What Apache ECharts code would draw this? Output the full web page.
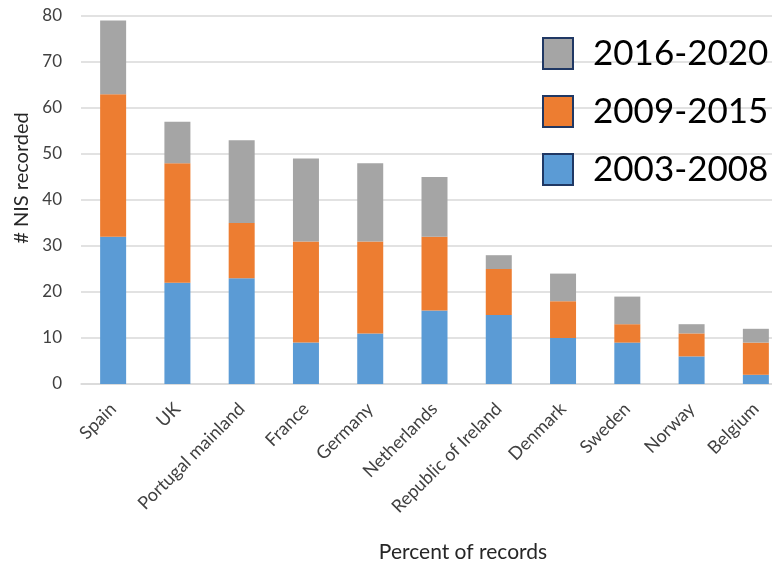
<!DOCTYPE html>
<html>
<head>
<meta charset="utf-8">
<script src="https://cdn.jsdelivr.net/npm/echarts@6/dist/echarts.min.js"></script>
<style>
  html, body { margin: 0; padding: 0; background: #fff; }
  #chart { width: 772px; height: 566px; }
</style>
</head>
<body>
<div id="chart"></div>
<script>
// Countries, ordered by total number of NIS recorded
const countries = ['Spain', 'UK', 'Portugal mainland', 'France', 'Germany', 'Netherlands',
  'Republic of Ireland', 'Denmark', 'Sweden', 'Norway', 'Belgium'];

// Records per period (stacked segments)
const period2003_2008 = [32, 22, 23, 9, 11, 16, 15, 10, 9, 6, 2];
const period2009_2015 = [31, 26, 12, 22, 20, 16, 10, 8, 4, 5, 7];
const period2016_2020 = [16, 9, 18, 18, 17, 13, 3, 6, 6, 2, 3];

const periodNames = ['2003-2008', '2009-2015', '2016-2020'];
const yTicks = { min: 0, max: 80, interval: 10 };

const colors = ['#5b9bd5', '#ed7d31', '#a5a5a5'];
const font = 'Lato, "Open Sans", sans-serif';

const chart = echarts.init(document.getElementById('chart'));

const seriesData = [period2003_2008, period2009_2015, period2016_2020];

chart.setOption({
  animation: false,
  color: colors,
  grid: {
    left: 81, right: -16, top: 16, bottom: 182,
    containLabel: false,
    outerBoundsMode: 'none'
  },
  legend: {
    orient: 'vertical',
    left: 542,
    top: 36,
    padding: 0,
    itemWidth: 30,
    itemHeight: 31,
    itemGap: 23,
    icon: 'rect',
    data: periodNames.slice().reverse(),
    itemStyle: { borderColor: '#203864', borderWidth: 2 },
    textStyle: { fontFamily: font, fontSize: 35, color: '#000', padding: [0, 0, 0, 15] }
  },
  xAxis: {
    type: 'category',
    data: countries,
    axisLine: { lineStyle: { color: '#d9d9d9', width: 1.5 } },
    axisTick: { show: false },
    axisLabel: {
      rotate: 45,
      interval: 0,
      margin: 22,
      fontFamily: font,
      fontSize: 18,
      color: '#404040'
    },
    name: 'Percent of records',
    nameLocation: 'middle',
    nameGap: 158,
    nameTextStyle: { fontFamily: font, fontSize: 21, color: '#262626', padding: [0, 0, 0, 57] }
  },
  yAxis: {
    type: 'value',
    min: yTicks.min,
    max: yTicks.max,
    interval: yTicks.interval,
    axisLine: { show: false },
    axisTick: { show: false },
    splitLine: { lineStyle: { color: '#d9d9d9', width: 1.5 } },
    axisLabel: { margin: 19, fontFamily: font, fontSize: 17, color: '#404040' },
    name: '# NIS recorded',
    nameLocation: 'middle',
    nameGap: 42,
    nameTextStyle: { fontFamily: font, fontSize: 20, color: '#262626', padding: [0, 0, 0, 44] }
  },
  series: periodNames.map((name, i) => ({
    name: name,
    type: 'bar',
    stack: 'total',
    barWidth: 26,
    data: seriesData[i]
  }))
});
</script>
</body>
</html>
